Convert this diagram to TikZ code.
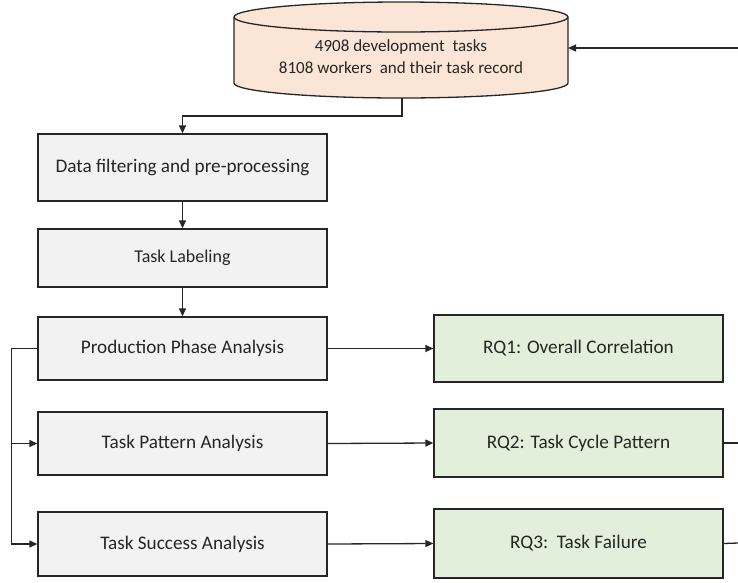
\documentclass[tikz,border=0pt]{standalone}
\usepackage{fontspec}
\setmainfont{Carlito}
\usetikzlibrary{arrows.meta}
\definecolor{boxgray}{HTML}{F2F2F2}
\definecolor{boxgreen}{HTML}{E2EFDA}
\definecolor{dbpeach}{HTML}{FBE5D6}
\definecolor{edge}{HTML}{262626}
\tikzset{
  proc/.style={draw=edge, line width=1.3pt, fill=boxgray, minimum width=289pt, inner sep=0pt, font=\fontsize{19.2}{22}\selectfont, text=black!85},
  rq/.style={draw=edge, line width=1.3pt, fill=boxgreen, minimum width=289pt, inner sep=0pt, font=\fontsize{19.2}{22}\selectfont, text=black!85},
  conn/.style={draw=edge, line width=1.3pt},
  arr/.style={conn, -{Triangle[length=8pt,width=7pt]}}
}
\begin{document}
\begin{tikzpicture}[x=1pt,y=1pt]
\useasboundingbox (0,0) rectangle (738,-582);
% cylinder
\filldraw[fill=dbpeach, draw=edge, line width=1.3pt]
  (234,-17) -- (234,-83) arc[start angle=180, end angle=360, x radius=167pt, y radius=15pt]
  -- (568,-17) arc[start angle=0, end angle=180, x radius=167pt, y radius=15pt] -- cycle;
\draw[draw=edge, line width=1.3pt] (234,-17) arc[start angle=180, end angle=360, x radius=167pt, y radius=15pt];
\node[align=center, font=\fontsize{17}{22}\selectfont, text=black!85, minimum width=334pt, inner sep=0pt] (db) at (401,-57) {4908 development\ \ tasks\\8108 workers\ \ and their task record};
\coordinate (dbbot) at (402,-98);
\coordinate (dbright) at (568,-48);
\coordinate (inR) at (738,-48);
% boxes
\node[proc, minimum height=67pt] (b1) at (182.5,-167.5) {Data filtering and pre-processing};
\node[proc, minimum height=58pt, font=\fontsize{18}{20}\selectfont] (b2) at (182.5,-258) {Task Labeling};
\node[proc, minimum height=63pt] (b3) at (182.5,-348.5) {Production Phase Analysis};
\node[proc, minimum height=63pt] (b4) at (182.5,-443.5) {Task Pattern Analysis};
\node[proc, minimum height=64pt] (b5) at (182.5,-544) {Task Success Analysis};
\node[rq, minimum height=67pt] (r1) at (578.5,-348.5) {RQ1: Overall Correlation};
\node[rq, minimum height=68pt] (r2) at (578.5,-443) {RQ2: Task Cycle Pattern};
\node[rq, minimum height=69pt] (r3) at (578.5,-543.5) {RQ3:\ \ Task Failure};
\coordinate (o2) at (738,-443);
\coordinate (o3) at (738,-543);
% connectors
\draw[arr] (inR) -- (dbright);
\draw[arr] (dbbot) -- (402,-116) -| (b1.north);
\draw[arr] (b1.south) -- (b2.north);
\draw[arr] (b2.south) -- (b3.north);
\draw[conn] (b3.west) -- ++(-26,0) coordinate (lc);
\draw[arr] (lc) |- (b4.west);
\draw[arr] (lc) |- (b5.west);
\draw[arr] (b3.east) -- (r1.west);
\draw[arr] (b4.east) -- (r2.west);
\draw[arr] (b5.east) -- (r3.west);
\draw[conn] (r2.east) -- (o2);
\draw[conn] (r3.east) -- (o3);
\end{tikzpicture}
\end{document}
